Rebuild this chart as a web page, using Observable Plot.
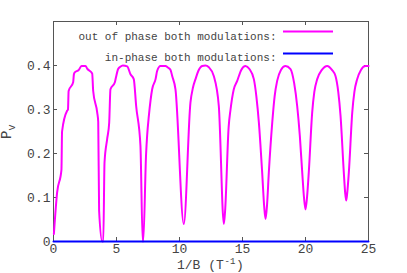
<!DOCTYPE html>
<html><head><meta charset="utf-8">
<script src="https://cdn.jsdelivr.net/npm/d3@7"></script>
<script src="https://cdn.jsdelivr.net/npm/@observablehq/plot@0.6"></script>
<style>body{margin:0;background:#fff;} svg{display:block;}</style>
</head><body><div id="chart"></div>
<script>
// out of phase both modulations (1/B, P_v)
const outX = [0.03,0.29,0.63,0.68,1.08,1.15,1.2,1.56,1.62,1.67,2.01,2.22,2.54,2.67,3.07,3.15,3.47,3.55,3.62,3.87,3.95,4.05,4.26,4.42,4.52,4.87,4.95,5.13,5.3,5.5,5.85,6.11,6.37,6.56,6.9,7.08,7.12,7.35,7.43,7.57,7.83,8.1,8.23,8.49,8.89,9.05,9.29,9.42,9.68,10.34,10.87,11.07,11.27,11.5,11.8,12.05,12.33,12.72,13.12,13.52,13.62,13.9,14.05,14.3,14.58,14.9,15.24,15.55,15.9,16.1,16.3,16.56,16.72,16.83,16.94,17.09,17.36,17.55,17.75,18.05,18.41,18.81,19.1,19.34,19.55,19.74,19.88,20.0,20.12,20.26,20.53,20.7,20.93,21.3,21.72,22.1,22.38,22.6,22.78,23.04,23.15,23.23,23.31,23.44,23.71,23.88,24.1,24.4,24.76,25.0];
const outY = [0.017,0.112,0.163,0.25,0.297,0.30,0.342,0.362,0.38,0.384,0.39,0.399,0.399,0.393,0.382,0.342,0.293,0.272,0.07,0.0,0.0,0.18,0.233,0.27,0.346,0.362,0.372,0.392,0.397,0.40,0.398,0.38,0.369,0.308,0.218,0.0,0.0,0.2,0.24,0.286,0.346,0.369,0.388,0.399,0.399,0.396,0.39,0.376,0.346,0.04,0.316,0.35,0.369,0.388,0.399,0.40,0.396,0.376,0.308,0.04,0.07,0.26,0.30,0.345,0.365,0.39,0.399,0.392,0.369,0.33,0.27,0.157,0.08,0.051,0.08,0.157,0.27,0.33,0.365,0.39,0.399,0.392,0.36,0.308,0.24,0.157,0.1,0.073,0.1,0.157,0.293,0.34,0.369,0.39,0.399,0.39,0.376,0.34,0.286,0.157,0.11,0.093,0.11,0.157,0.293,0.34,0.369,0.39,0.399,0.399];
// in-phase both modulations
const inX = [0, 25];
const inY = [0, 0];
const xTicks = [0, 5, 10, 15, 20, 25];
const yTicks = [0, 0.1, 0.2, 0.3, 0.4];
const seriesNames = ["out of phase both modulations:", "in-phase both modulations:"];

const W = 407, H = 273, mL = 53, mR = 39, mT = 21, mB = 32;
const pw = W - mL - mR, ph = H - mT - mB;
const magenta = "#ff00ff", blue = "#0000ff", axisCol = "#555", textCol = "#444";
const font = "'Liberation Mono', 'DejaVu Sans Mono', monospace";
const outData = outX.map((x, i) => ({x, y: outY[i]}));
const inData = inX.map((x, i) => ({x, y: inY[i]}));

const chart = Plot.plot({
  width: W, height: H,
  marginLeft: mL, marginRight: mR, marginTop: mT, marginBottom: mB,
  style: {fontFamily: font, fontSize: "13px", color: textCol, background: "#fff"},
  x: {domain: [0, 25]},
  y: {domain: [0, 0.5]},
  marks: [
    Plot.ruleX(xTicks, {x: d => d, insetTop: ph - 4, stroke: axisCol}),
    Plot.ruleX(xTicks, {x: d => d, insetBottom: ph - 4, stroke: axisCol}),
    Plot.ruleY(yTicks.concat([0.5]), {y: d => d, insetRight: pw - 4, stroke: axisCol}),
    Plot.ruleY(yTicks.concat([0.5]), {y: d => d, insetLeft: pw - 4, stroke: axisCol}),
    Plot.frame({stroke: axisCol}),
    Plot.axisX({ticks: xTicks, tickSize: 0, tickPadding: 2, tickFormat: d => String(d), label: null, fill: textCol}),
    Plot.axisY({ticks: yTicks, tickSize: 0, tickPadding: 3, tickFormat: d => String(d), label: null, fill: textCol}),
    Plot.line(outData, {x: "x", y: "y", stroke: magenta, strokeWidth: 2, curve: "monotone-x"}),
    Plot.line(inData, {x: "x", y: "y", stroke: blue, strokeWidth: 2}),
    Plot.text([seriesNames[0]], {text: d => d, frameAnchor: "top-right", dx: -92, dy: 11, fontSize: 11, fill: textCol}),
    Plot.text([seriesNames[1]], {text: d => d, frameAnchor: "top-right", dx: -92, dy: 32, fontSize: 11, fill: textCol})
  ]
});
document.getElementById("chart").appendChild(chart);

const svg = d3.select(chart);
// legend samples
svg.append("line").attr("x1", W - mR - 85).attr("x2", W - mR - 35).attr("y1", mT + 10.5).attr("y2", mT + 10.5).attr("stroke", magenta).attr("stroke-width", 2);
svg.append("line").attr("x1", W - mR - 85).attr("x2", W - mR - 35).attr("y1", mT + 32.5).attr("y2", mT + 32.5).attr("stroke", blue).attr("stroke-width", 2);
function addText(x, y, txt, size, rot) {
  return svg.append("text")
    .attr("transform", `translate(${x},${y})` + (rot ? ` rotate(${rot})` : ""))
    .attr("text-anchor", "start")
    .attr("fill", textCol).style("font-family", font).style("font-size", size + "px").text(txt);
}
// y label: P with subscript v (reads upward)
addText(11, 139, "P", 14, -90);
addText(15, 130.5, "v", 10, -90);
// x label: 1/B (T^-1)
addText(177, 269, "1/B (T", 13, 0);
addText(224.5, 264, "-1", 9, 0);
addText(236, 269, ")", 13, 0);
</script>
</body></html>
